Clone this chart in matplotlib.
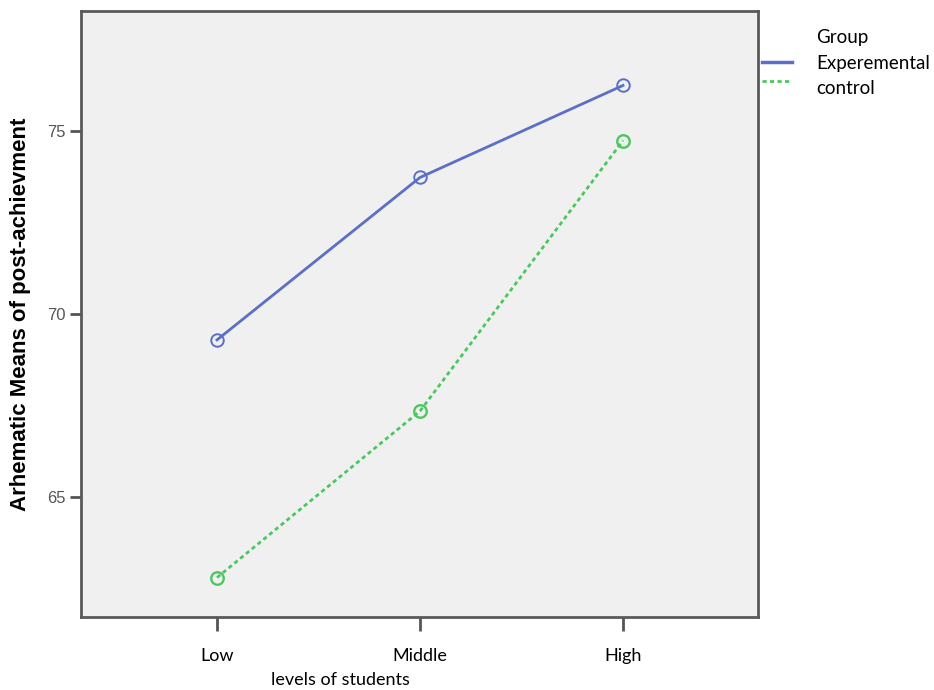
import matplotlib
matplotlib.use('Agg')
import matplotlib.pyplot as plt
from matplotlib.lines import Line2D

# data
levels = ['Low', 'Middle', 'High']
experemental = [69.29, 73.74, 76.26]
control = [62.78, 67.34, 74.75]

blue = '#5b6fc6'
green = '#4cc760'

plt.rcParams['font.family'] = ['Lato', 'DejaVu Sans']

fig = plt.figure(figsize=(9.34, 6.9), dpi=100)
ax = fig.add_axes([0.0867, 0.1058, 0.7249, 0.8783])
ax.set_facecolor('#f0f0f0')

x = list(range(len(levels)))
ax.plot(x, experemental, color=blue, linewidth=2, marker='o', markersize=9,
        markerfacecolor='none', markeredgecolor=blue, markeredgewidth=1.4)
ax.plot(x, control, color=green, linewidth=2, linestyle=(0, (1.5, 1.2)), marker='o', markersize=9,
        markerfacecolor='none', markeredgecolor=green, markeredgewidth=1.7)

ax.set_xlim(-0.67, 2.665)
ax.set_ylim(61.7, 78.3)
ax.set_xticks(x)
ax.set_xticklabels(levels, fontsize=13, color='black')
ax.set_yticks([65, 70, 75])
ax.set_yticklabels(['65', '70', '75'], fontsize=12, color='#555555',
                   family=['Liberation Sans', 'DejaVu Sans'])
ax.tick_params(axis='x', length=10, width=2, color='#555555', pad=12)
ax.tick_params(axis='y', length=8, width=2, color='#555555', pad=3)

for side in ax.spines.values():
    side.set_color('#5a5a5a')
    side.set_linewidth(2)

ax.set_ylabel('Arhematic Means of post-achievment', fontsize=16, fontweight='bold',
              family=['Liberation Sans Narrow', 'Liberation Sans', 'DejaVu Sans'], labelpad=12)

fig.text(0.364, 0.0145, 'levels of students', fontsize=13, ha='center', va='center')

# legend, placed by hand like the SPSS one
W, H = 934, 690
fig.text(816 / W, 1 - 38 / H, 'Group', fontsize=13.5, va='center', ha='left')
fig.text(816 / W, 1 - 63 / H, 'Experemental', fontsize=13.5, va='center', ha='left')
fig.text(816 / W, 1 - 88 / H, 'control', fontsize=13.5, va='center', ha='left')
fig.add_artist(Line2D([762 / W, 792 / W], [1 - 62 / H, 1 - 62 / H], color=blue,
                      linewidth=2.5, transform=fig.transFigure))
fig.add_artist(Line2D([762 / W, 792 / W], [1 - 81 / H, 1 - 81 / H], color=green,
                      linewidth=2, linestyle=(0, (1.5, 1.2)), transform=fig.transFigure))

fig.savefig('out.png', dpi=100)
